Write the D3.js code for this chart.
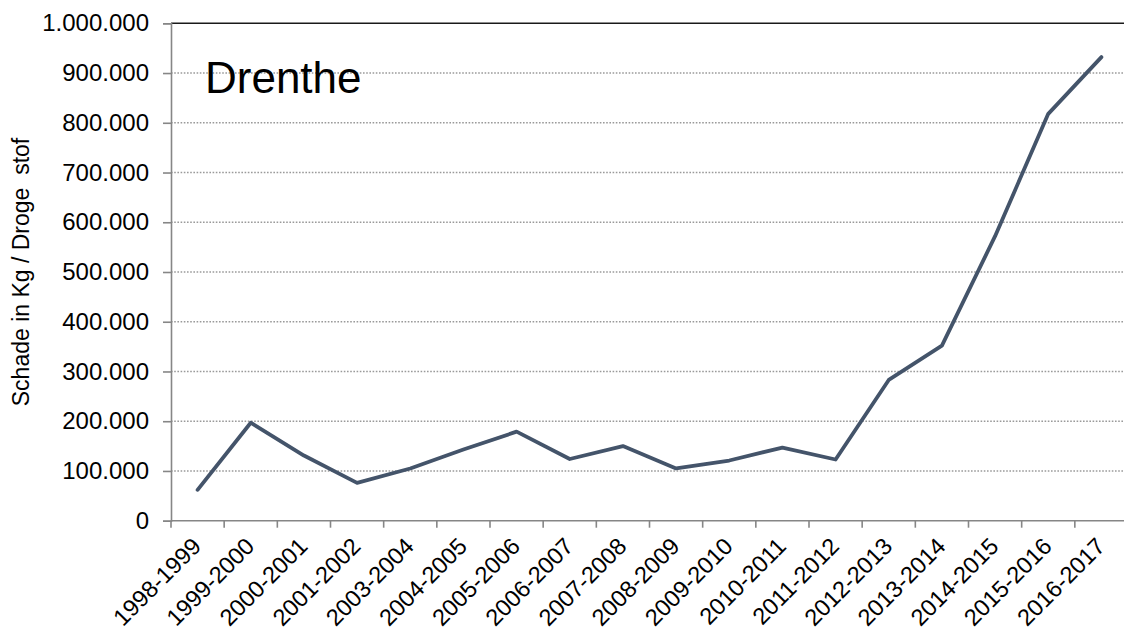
<!DOCTYPE html>
<html>
<head>
<meta charset="utf-8">
<script src="https://cdn.jsdelivr.net/npm/d3@7"></script>
<style>
  html, body { margin: 0; padding: 0; background: #fff; }
  svg { display: block; font-family: Arial, "Liberation Sans", sans-serif; }
</style>
</head>
<body>
<svg id="chart" width="1124" height="636"></svg>
<script>
// Seasons on the category axis
const seasons = [
  "1998-1999", "1999-2000", "2000-2001", "2001-2002", "2003-2004", "2004-2005",
  "2005-2006", "2006-2007", "2007-2008", "2008-2009", "2009-2010", "2010-2011",
  "2011-2012", "2012-2013", "2013-2014", "2014-2015", "2015-2016", "2016-2017"
];

// Damage per season, kg dry matter
const damage = [
  62000, 197000, 131000, 76000, 105000, 143000,
  179000, 124000, 150000, 105000, 121000, 147000,
  123000, 283000, 352000, 572000, 818000, 932000
];

// Value axis ticks
const yTicks = [0, 100000, 200000, 300000, 400000, 500000, 600000, 700000, 800000, 900000, 1000000];

const regionName = "Drenthe";
const yTitle = "Schade in Kg / Droge  stof";

const svg = d3.select("#chart");
const margin = { left: 171, right: -4, top: 23.3, bottom: 115.3 };
const W = 1124, H = 636;
const x0 = margin.left, x1 = W - margin.right;
const y0 = H - margin.bottom, y1 = margin.top;

const x = d3.scaleBand().domain(seasons).range([x0, x1]).paddingInner(0).paddingOuter(0);
const y = d3.scaleLinear().domain([0, 1000000]).range([y0, y1]);

const fmt = v => d3.format(",")(v).replace(/,/g, ".");

// Dotted horizontal gridlines
svg.append("g")
  .selectAll("line")
  .data(yTicks.filter(t => t > 0 && t < 1000000))
  .join("line")
  .attr("x1", x0).attr("x2", W)
  .attr("y1", d => y(d)).attr("y2", d => y(d))
  .attr("stroke", "#9a9a9a")
  .attr("stroke-width", 1.4)
  .attr("stroke-dasharray", "1.6,1.6");

// Top border of the plot area
svg.append("line")
  .attr("x1", x0).attr("x2", W)
  .attr("y1", y(1000000)).attr("y2", y(1000000))
  .attr("stroke", "#1a1a1a")
  .attr("stroke-width", 1.6);

// Value axis
const yAxis = d3.axisLeft(y)
  .tickValues(yTicks)
  .tickSize(8)
  .tickPadding(14)
  .tickFormat(fmt);

const gy = svg.append("g")
  .attr("transform", `translate(${x0},0)`)
  .call(yAxis);
gy.select(".domain").attr("stroke", "#868686").attr("stroke-width", 1.6);
gy.selectAll(".tick line").attr("stroke", "#868686").attr("stroke-width", 1.6);
gy.selectAll(".tick text")
  .attr("fill", "#000")
  .style("font-size", "24px")
  .style("font-family", "Arial, 'Liberation Sans', sans-serif");

// Category axis: ticks on band boundaries
const gx = svg.append("g")
  .attr("transform", `translate(0,${y0})`);
gx.append("line")
  .attr("x1", x0).attr("x2", W)
  .attr("y1", 0).attr("y2", 0)
  .attr("stroke", "#868686").attr("stroke-width", 1.6);
gx.selectAll("line.tick")
  .data(seasons)
  .join("line")
  .attr("class", "tick")
  .attr("x1", d => x(d)).attr("x2", d => x(d))
  .attr("y1", 0).attr("y2", 7)
  .attr("stroke", "#868686").attr("stroke-width", 1.6);

gx.selectAll("text")
  .data(seasons)
  .join("text")
  .attr("transform", d => `translate(${x(d) + x.bandwidth() / 2 + 5},27) rotate(-45)`)
  .attr("text-anchor", "end")
  .attr("fill", "#000")
  .style("font-size", "23.5px")
  .text(d => d);

// Damage line
const line = d3.line()
  .x((d, i) => x(seasons[i]) + x.bandwidth() / 2)
  .y(d => y(d));

svg.append("path")
  .datum(damage)
  .attr("d", line)
  .attr("fill", "none")
  .attr("stroke", "#44546a")
  .attr("stroke-width", 3.8)
  .attr("stroke-linejoin", "round")
  .attr("stroke-linecap", "round");

// Region label inside the plot
svg.append("text")
  .attr("x", 205)
  .attr("y", 93)
  .attr("fill", "#000")
  .style("font-size", "44px")
  .text(regionName);

// Value axis title
svg.append("text")
  .attr("transform", `translate(29,${(y0 + y1) / 2}) rotate(-90)`)
  .attr("text-anchor", "middle")
  .attr("fill", "#000")
  .style("font-size", "23px")
  .style("white-space", "pre")
  .attr("xml:space", "preserve")
  .text(yTitle);
</script>
</body>
</html>
